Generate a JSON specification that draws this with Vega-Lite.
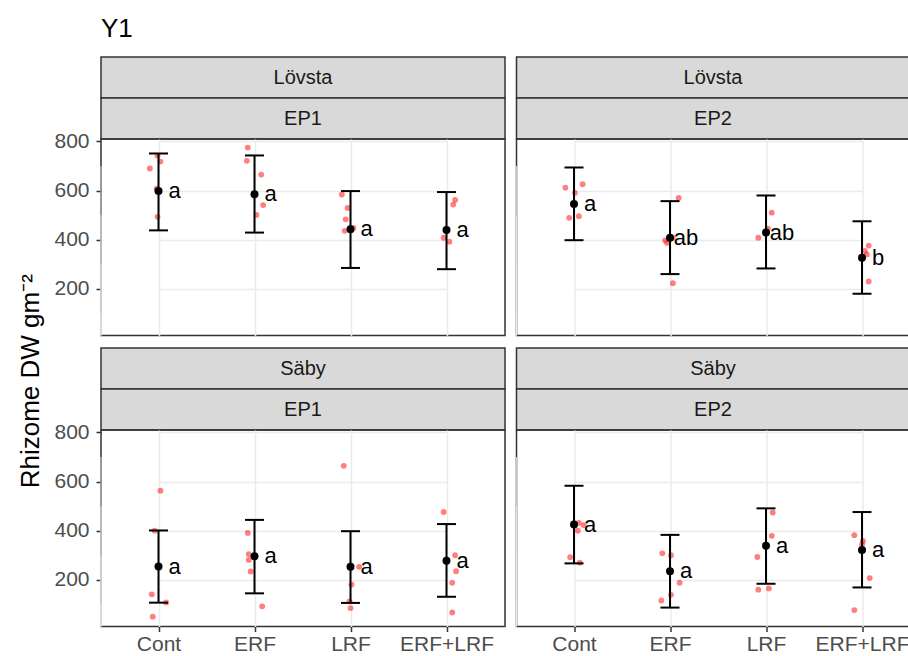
{
  "$schema": "https://vega.github.io/schema/vega-lite/v6.json",
  "padding": {"left": 18, "top": 16, "right": 0, "bottom": 0},
  "background": "white",
  "config": {
    "font": "Liberation Sans",
    "view": {"stroke": "#333333", "strokeWidth": 1.5},
    "axis": {"domain": false, "gridColor": "#ebebeb", "labelColor": "#4d4d4d", "labelFontSize": 21, "labelFont": "Liberation Sans", "tickColor": "#333333", "tickSize": 5, "tickWidth": 1.5, "titleColor": "black", "titleFontWeight": "normal", "titleFont": "Liberation Sans"}
  },
  "datasets": {
    "strips": [
      {"site": "Lövsta", "ep": "EP1"}, {"site": "Lövsta", "ep": "EP2"},
      {"site": "Säby", "ep": "EP1"}, {"site": "Säby", "ep": "EP2"}
    ],
    "minor": [{"g": 100}, {"g": 300}, {"g": 500}, {"g": 700}],
    "obs": [
      {"site": "Lövsta", "ep": "EP1", "trt": "Cont", "v": 742, "j": -0.01},
      {"site": "Lövsta", "ep": "EP1", "trt": "Cont", "v": 718, "j": 0.02},
      {"site": "Lövsta", "ep": "EP1", "trt": "Cont", "v": 690, "j": -0.09},
      {"site": "Lövsta", "ep": "EP1", "trt": "Cont", "v": 608, "j": -0.02},
      {"site": "Lövsta", "ep": "EP1", "trt": "Cont", "v": 493, "j": -0.01},
      {"site": "Lövsta", "ep": "EP1", "trt": "ERF", "v": 775, "j": -0.07},
      {"site": "Lövsta", "ep": "EP1", "trt": "ERF", "v": 721, "j": -0.08},
      {"site": "Lövsta", "ep": "EP1", "trt": "ERF", "v": 665, "j": 0.07},
      {"site": "Lövsta", "ep": "EP1", "trt": "ERF", "v": 541, "j": 0.09},
      {"site": "Lövsta", "ep": "EP1", "trt": "ERF", "v": 501, "j": 0.02},
      {"site": "Lövsta", "ep": "EP1", "trt": "LRF", "v": 584, "j": -0.09},
      {"site": "Lövsta", "ep": "EP1", "trt": "LRF", "v": 529, "j": -0.03},
      {"site": "Lövsta", "ep": "EP1", "trt": "LRF", "v": 483, "j": -0.05},
      {"site": "Lövsta", "ep": "EP1", "trt": "LRF", "v": 436, "j": -0.06},
      {"site": "Lövsta", "ep": "EP1", "trt": "LRF", "v": 448, "j": 0.03},
      {"site": "Lövsta", "ep": "EP1", "trt": "ERF+LRF", "v": 562, "j": 0.09},
      {"site": "Lövsta", "ep": "EP1", "trt": "ERF+LRF", "v": 543, "j": 0.07},
      {"site": "Lövsta", "ep": "EP1", "trt": "ERF+LRF", "v": 408, "j": -0.03},
      {"site": "Lövsta", "ep": "EP1", "trt": "ERF+LRF", "v": 392, "j": 0.03},
      {"site": "Lövsta", "ep": "EP2", "trt": "Cont", "v": 612, "j": -0.09},
      {"site": "Lövsta", "ep": "EP2", "trt": "Cont", "v": 626, "j": 0.09},
      {"site": "Lövsta", "ep": "EP2", "trt": "Cont", "v": 591, "j": 0.01},
      {"site": "Lövsta", "ep": "EP2", "trt": "Cont", "v": 489, "j": -0.05},
      {"site": "Lövsta", "ep": "EP2", "trt": "Cont", "v": 496, "j": 0.05},
      {"site": "Lövsta", "ep": "EP2", "trt": "ERF", "v": 570, "j": 0.09},
      {"site": "Lövsta", "ep": "EP2", "trt": "ERF", "v": 397, "j": -0.05},
      {"site": "Lövsta", "ep": "EP2", "trt": "ERF", "v": 387, "j": -0.03},
      {"site": "Lövsta", "ep": "EP2", "trt": "ERF", "v": 408, "j": 0.03},
      {"site": "Lövsta", "ep": "EP2", "trt": "ERF", "v": 223, "j": 0.03},
      {"site": "Lövsta", "ep": "EP2", "trt": "LRF", "v": 510, "j": 0.06},
      {"site": "Lövsta", "ep": "EP2", "trt": "LRF", "v": 445, "j": 0.02},
      {"site": "Lövsta", "ep": "EP2", "trt": "LRF", "v": 435, "j": 0.0},
      {"site": "Lövsta", "ep": "EP2", "trt": "LRF", "v": 408, "j": -0.08},
      {"site": "Lövsta", "ep": "EP2", "trt": "ERF+LRF", "v": 376, "j": 0.07},
      {"site": "Lövsta", "ep": "EP2", "trt": "ERF+LRF", "v": 354, "j": 0.03},
      {"site": "Lövsta", "ep": "EP2", "trt": "ERF+LRF", "v": 340, "j": 0.05},
      {"site": "Lövsta", "ep": "EP2", "trt": "ERF+LRF", "v": 230, "j": 0.07},
      {"site": "Säby", "ep": "EP1", "trt": "Cont", "v": 563, "j": 0.02},
      {"site": "Säby", "ep": "EP1", "trt": "Cont", "v": 400, "j": -0.04},
      {"site": "Säby", "ep": "EP1", "trt": "Cont", "v": 141, "j": -0.07},
      {"site": "Säby", "ep": "EP1", "trt": "Cont", "v": 108, "j": 0.08},
      {"site": "Säby", "ep": "EP1", "trt": "Cont", "v": 50, "j": -0.06},
      {"site": "Säby", "ep": "EP1", "trt": "ERF", "v": 391, "j": -0.07},
      {"site": "Säby", "ep": "EP1", "trt": "ERF", "v": 305, "j": -0.06},
      {"site": "Säby", "ep": "EP1", "trt": "ERF", "v": 281, "j": -0.06},
      {"site": "Säby", "ep": "EP1", "trt": "ERF", "v": 234, "j": -0.04},
      {"site": "Säby", "ep": "EP1", "trt": "ERF", "v": 92, "j": 0.08},
      {"site": "Säby", "ep": "EP1", "trt": "LRF", "v": 664, "j": -0.07},
      {"site": "Säby", "ep": "EP1", "trt": "LRF", "v": 253, "j": 0.09},
      {"site": "Säby", "ep": "EP1", "trt": "LRF", "v": 181, "j": 0.01},
      {"site": "Säby", "ep": "EP1", "trt": "LRF", "v": 112, "j": -0.01},
      {"site": "Säby", "ep": "EP1", "trt": "LRF", "v": 85, "j": 0.0},
      {"site": "Säby", "ep": "EP1", "trt": "ERF+LRF", "v": 476, "j": -0.03},
      {"site": "Säby", "ep": "EP1", "trt": "ERF+LRF", "v": 300, "j": 0.09},
      {"site": "Säby", "ep": "EP1", "trt": "ERF+LRF", "v": 235, "j": 0.1},
      {"site": "Säby", "ep": "EP1", "trt": "ERF+LRF", "v": 188, "j": 0.06},
      {"site": "Säby", "ep": "EP1", "trt": "ERF+LRF", "v": 67, "j": 0.06},
      {"site": "Säby", "ep": "EP2", "trt": "Cont", "v": 432, "j": 0.05},
      {"site": "Säby", "ep": "EP2", "trt": "Cont", "v": 423, "j": 0.1},
      {"site": "Säby", "ep": "EP2", "trt": "Cont", "v": 400, "j": 0.04},
      {"site": "Säby", "ep": "EP2", "trt": "Cont", "v": 292, "j": -0.04},
      {"site": "Säby", "ep": "EP2", "trt": "Cont", "v": 270, "j": 0.06},
      {"site": "Säby", "ep": "EP2", "trt": "ERF", "v": 308, "j": -0.08},
      {"site": "Säby", "ep": "EP2", "trt": "ERF", "v": 300, "j": 0.01},
      {"site": "Säby", "ep": "EP2", "trt": "ERF", "v": 188, "j": 0.1},
      {"site": "Säby", "ep": "EP2", "trt": "ERF", "v": 139, "j": 0.01},
      {"site": "Säby", "ep": "EP2", "trt": "ERF", "v": 116, "j": -0.09},
      {"site": "Säby", "ep": "EP2", "trt": "LRF", "v": 474, "j": 0.07},
      {"site": "Säby", "ep": "EP2", "trt": "LRF", "v": 379, "j": 0.06},
      {"site": "Säby", "ep": "EP2", "trt": "LRF", "v": 293, "j": -0.09},
      {"site": "Säby", "ep": "EP2", "trt": "LRF", "v": 160, "j": -0.08},
      {"site": "Säby", "ep": "EP2", "trt": "LRF", "v": 165, "j": 0.03},
      {"site": "Säby", "ep": "EP2", "trt": "ERF+LRF", "v": 382, "j": -0.08},
      {"site": "Säby", "ep": "EP2", "trt": "ERF+LRF", "v": 358, "j": 0.01},
      {"site": "Säby", "ep": "EP2", "trt": "ERF+LRF", "v": 345, "j": 0.0},
      {"site": "Säby", "ep": "EP2", "trt": "ERF+LRF", "v": 207, "j": 0.08},
      {"site": "Säby", "ep": "EP2", "trt": "ERF+LRF", "v": 77, "j": -0.08}
    ],
    "summ": [
      {"site": "Lövsta", "ep": "EP1", "trt": "Cont", "mean": 598, "lo": 438, "hi": 751, "lab": "a"},
      {"site": "Lövsta", "ep": "EP1", "trt": "ERF", "mean": 585, "lo": 429, "hi": 743, "lab": "a"},
      {"site": "Lövsta", "ep": "EP1", "trt": "LRF", "mean": 443, "lo": 285, "hi": 598, "lab": "a"},
      {"site": "Lövsta", "ep": "EP1", "trt": "ERF+LRF", "mean": 440, "lo": 280, "hi": 594, "lab": "a"},
      {"site": "Lövsta", "ep": "EP2", "trt": "Cont", "mean": 545, "lo": 398, "hi": 694, "lab": "a"},
      {"site": "Lövsta", "ep": "EP2", "trt": "ERF", "mean": 408, "lo": 260, "hi": 557, "lab": "ab"},
      {"site": "Lövsta", "ep": "EP2", "trt": "LRF", "mean": 429, "lo": 283, "hi": 580, "lab": "ab"},
      {"site": "Lövsta", "ep": "EP2", "trt": "ERF+LRF", "mean": 327, "lo": 180, "hi": 475, "lab": "b"},
      {"site": "Säby", "ep": "EP1", "trt": "Cont", "mean": 254, "lo": 107, "hi": 401, "lab": "a"},
      {"site": "Säby", "ep": "EP1", "trt": "ERF", "mean": 296, "lo": 145, "hi": 444, "lab": "a"},
      {"site": "Säby", "ep": "EP1", "trt": "LRF", "mean": 253, "lo": 106, "hi": 398, "lab": "a"},
      {"site": "Säby", "ep": "EP1", "trt": "ERF+LRF", "mean": 278, "lo": 131, "hi": 427, "lab": "a"},
      {"site": "Säby", "ep": "EP2", "trt": "Cont", "mean": 425, "lo": 267, "hi": 583, "lab": "a"},
      {"site": "Säby", "ep": "EP2", "trt": "ERF", "mean": 235, "lo": 87, "hi": 383, "lab": "a"},
      {"site": "Säby", "ep": "EP2", "trt": "LRF", "mean": 339, "lo": 184, "hi": 491, "lab": "a"},
      {"site": "Säby", "ep": "EP2", "trt": "ERF+LRF", "mean": 321, "lo": 169, "hi": 476, "lab": "a"}
    ]
  },
  "spacing": 9,
  "hconcat": [
    {
      "width": 24, "height": 568.5,
      "view": {"stroke": null},
      "data": {"values": [{"t": "Rhizome DW gm⁻²"}]},
      "mark": {"type": "text", "angle": 270, "fontSize": 26, "color": "black", "baseline": "middle", "align": "center", "dx": -40},
      "encoding": {"text": {"field": "t"}}
    },
    {
      "title": {"text": "Y1", "anchor": "start", "frame": "group", "fontSize": 26, "fontWeight": "normal", "color": "black", "font": "Liberation Sans", "offset": 14},
      "spacing": 8.5,
      "hconcat": [
        {
          "bounds": "flush",
          "spacing": 0,
          "vconcat": [
            {"width": 404, "height": 41, "view": {"fill": "#d9d9d9", "stroke": "#333333", "strokeWidth": 1.5}, "data": {"name": "strips"}, "transform": [{"filter": "datum.site == 'Lövsta' && datum.ep == 'EP1'"}], "mark": {"type": "text", "fontSize": 20, "color": "#1a1a1a", "baseline": "middle"}, "encoding": {"text": {"field": "site"}}},
            {"width": 404, "height": 41, "view": {"fill": "#d9d9d9", "stroke": "#333333", "strokeWidth": 1.5}, "data": {"name": "strips"}, "transform": [{"filter": "datum.site == 'Lövsta' && datum.ep == 'EP1'"}], "mark": {"type": "text", "fontSize": 20, "color": "#1a1a1a", "baseline": "middle"}, "encoding": {"text": {"field": "ep"}}},
            {
              "width": 404, "height": 196.5,
              "encoding": {"x": {"field": "trt", "type": "nominal", "scale": {"type": "point", "domain": ["Cont", "ERF", "LRF", "ERF+LRF"], "range": [57.5, 345.5], "padding": 0}, "axis": {"title": null, "labels": false, "ticks": false, "grid": true, "gridWidth": 1.5}}},
              "layer": [
                {"data": {"name": "minor"}, "mark": {"type": "rule", "color": "#ebebeb", "strokeWidth": 0.8},
                 "encoding": {"y": {"field": "g", "type": "quantitative", "title": null}}},
                {"data": {"name": "obs"}, "transform": [{"filter": "datum.site == 'Lövsta' && datum.ep == 'EP1'"}], "mark": {"type": "circle", "size": 34, "color": "red", "opacity": 0.5},
                 "encoding": {"y": {"field": "v", "type": "quantitative", "scale": {"domain": [10, 810], "nice": false, "zero": false}, "axis": {"title": null, "grid": true, "values": [200, 400, 600, 800], "labelPadding": 7, "gridWidth": 1.5}},
                              "xOffset": {"field": "j", "type": "quantitative", "scale": {"domain": [-0.5, 0.5], "range": [-48, 48]}}}},
                {"data": {"name": "summ"}, "transform": [{"filter": "datum.site == 'Lövsta' && datum.ep == 'EP1'"}], "mark": {"type": "rule", "color": "black", "strokeWidth": 2},
                 "encoding": {"y": {"field": "lo", "type": "quantitative", "title": null}, "y2": {"field": "hi"}}},
                {"data": {"name": "summ"}, "transform": [{"filter": "datum.site == 'Lövsta' && datum.ep == 'EP1'"}], "mark": {"type": "tick", "orient": "horizontal", "size": 19, "thickness": 2, "color": "black", "opacity": 1},
                 "encoding": {"y": {"field": "lo", "type": "quantitative", "title": null}}},
                {"data": {"name": "summ"}, "transform": [{"filter": "datum.site == 'Lövsta' && datum.ep == 'EP1'"}], "mark": {"type": "tick", "orient": "horizontal", "size": 19, "thickness": 2, "color": "black", "opacity": 1},
                 "encoding": {"y": {"field": "hi", "type": "quantitative", "title": null}}},
                {"data": {"name": "summ"}, "transform": [{"filter": "datum.site == 'Lövsta' && datum.ep == 'EP1'"}], "mark": {"type": "circle", "size": 64, "color": "black", "opacity": 1},
                 "encoding": {"y": {"field": "mean", "type": "quantitative", "title": null}}},
                {"data": {"name": "summ"}, "transform": [{"filter": "datum.site == 'Lövsta' && datum.ep == 'EP1'"}], "mark": {"type": "text", "fontSize": 22, "color": "black", "dx": 16, "align": "center", "baseline": "middle"},
                 "encoding": {"y": {"field": "mean", "type": "quantitative", "title": null}, "text": {"field": "lab"}}}
              ]
            },
            {"width": 404, "height": 11.5, "view": {"stroke": null}, "data": {"values": []}, "mark": "text", "encoding": {}},
            {"width": 404, "height": 41, "view": {"fill": "#d9d9d9", "stroke": "#333333", "strokeWidth": 1.5}, "data": {"name": "strips"}, "transform": [{"filter": "datum.site == 'Säby' && datum.ep == 'EP1'"}], "mark": {"type": "text", "fontSize": 20, "color": "#1a1a1a", "baseline": "middle"}, "encoding": {"text": {"field": "site"}}},
            {"width": 404, "height": 41, "view": {"fill": "#d9d9d9", "stroke": "#333333", "strokeWidth": 1.5}, "data": {"name": "strips"}, "transform": [{"filter": "datum.site == 'Säby' && datum.ep == 'EP1'"}], "mark": {"type": "text", "fontSize": 20, "color": "#1a1a1a", "baseline": "middle"}, "encoding": {"text": {"field": "ep"}}},
            {
              "width": 404, "height": 196.5,
              "encoding": {"x": {"field": "trt", "type": "nominal", "scale": {"type": "point", "domain": ["Cont", "ERF", "LRF", "ERF+LRF"], "range": [57.5, 345.5], "padding": 0}, "axis": {"title": null, "labelPadding": 2, "labelAngle": 0, "grid": true, "gridWidth": 1.5}}},
              "layer": [
                {"data": {"name": "minor"}, "mark": {"type": "rule", "color": "#ebebeb", "strokeWidth": 0.8},
                 "encoding": {"y": {"field": "g", "type": "quantitative", "title": null}}},
                {"data": {"name": "obs"}, "transform": [{"filter": "datum.site == 'Säby' && datum.ep == 'EP1'"}], "mark": {"type": "circle", "size": 34, "color": "red", "opacity": 0.5},
                 "encoding": {"y": {"field": "v", "type": "quantitative", "scale": {"domain": [10, 810], "nice": false, "zero": false}, "axis": {"title": null, "grid": true, "values": [200, 400, 600, 800], "labelPadding": 7, "gridWidth": 1.5}},
                              "xOffset": {"field": "j", "type": "quantitative", "scale": {"domain": [-0.5, 0.5], "range": [-48, 48]}}}},
                {"data": {"name": "summ"}, "transform": [{"filter": "datum.site == 'Säby' && datum.ep == 'EP1'"}], "mark": {"type": "rule", "color": "black", "strokeWidth": 2},
                 "encoding": {"y": {"field": "lo", "type": "quantitative", "title": null}, "y2": {"field": "hi"}}},
                {"data": {"name": "summ"}, "transform": [{"filter": "datum.site == 'Säby' && datum.ep == 'EP1'"}], "mark": {"type": "tick", "orient": "horizontal", "size": 19, "thickness": 2, "color": "black", "opacity": 1},
                 "encoding": {"y": {"field": "lo", "type": "quantitative", "title": null}}},
                {"data": {"name": "summ"}, "transform": [{"filter": "datum.site == 'Säby' && datum.ep == 'EP1'"}], "mark": {"type": "tick", "orient": "horizontal", "size": 19, "thickness": 2, "color": "black", "opacity": 1},
                 "encoding": {"y": {"field": "hi", "type": "quantitative", "title": null}}},
                {"data": {"name": "summ"}, "transform": [{"filter": "datum.site == 'Säby' && datum.ep == 'EP1'"}], "mark": {"type": "circle", "size": 64, "color": "black", "opacity": 1},
                 "encoding": {"y": {"field": "mean", "type": "quantitative", "title": null}}},
                {"data": {"name": "summ"}, "transform": [{"filter": "datum.site == 'Säby' && datum.ep == 'EP1'"}], "mark": {"type": "text", "fontSize": 22, "color": "black", "dx": 16, "align": "center", "baseline": "middle"},
                 "encoding": {"y": {"field": "mean", "type": "quantitative", "title": null}, "text": {"field": "lab"}}}
              ]
            }
          ]
        },
        {
          "bounds": "flush",
          "spacing": 0,
          "vconcat": [
            {"width": 393, "height": 41, "view": {"fill": "#d9d9d9", "stroke": "#333333", "strokeWidth": 1.5}, "data": {"name": "strips"}, "transform": [{"filter": "datum.site == 'Lövsta' && datum.ep == 'EP2'"}], "mark": {"type": "text", "fontSize": 20, "color": "#1a1a1a", "baseline": "middle"}, "encoding": {"text": {"field": "site"}}},
            {"width": 393, "height": 41, "view": {"fill": "#d9d9d9", "stroke": "#333333", "strokeWidth": 1.5}, "data": {"name": "strips"}, "transform": [{"filter": "datum.site == 'Lövsta' && datum.ep == 'EP2'"}], "mark": {"type": "text", "fontSize": 20, "color": "#1a1a1a", "baseline": "middle"}, "encoding": {"text": {"field": "ep"}}},
            {
              "width": 393, "height": 196.5,
              "encoding": {"x": {"field": "trt", "type": "nominal", "scale": {"type": "point", "domain": ["Cont", "ERF", "LRF", "ERF+LRF"], "range": [57.5, 345.5], "padding": 0}, "axis": {"title": null, "labels": false, "ticks": false, "grid": true, "gridWidth": 1.5}}},
              "layer": [
                {"data": {"name": "minor"}, "mark": {"type": "rule", "color": "#ebebeb", "strokeWidth": 0.8},
                 "encoding": {"y": {"field": "g", "type": "quantitative", "title": null}}},
                {"data": {"name": "obs"}, "transform": [{"filter": "datum.site == 'Lövsta' && datum.ep == 'EP2'"}], "mark": {"type": "circle", "size": 34, "color": "red", "opacity": 0.5},
                 "encoding": {"y": {"field": "v", "type": "quantitative", "scale": {"domain": [10, 810], "nice": false, "zero": false}, "axis": {"title": null, "grid": true, "values": [200, 400, 600, 800], "labels": false, "ticks": false, "gridWidth": 1.5}},
                              "xOffset": {"field": "j", "type": "quantitative", "scale": {"domain": [-0.5, 0.5], "range": [-48, 48]}}}},
                {"data": {"name": "summ"}, "transform": [{"filter": "datum.site == 'Lövsta' && datum.ep == 'EP2'"}], "mark": {"type": "rule", "color": "black", "strokeWidth": 2},
                 "encoding": {"y": {"field": "lo", "type": "quantitative", "title": null}, "y2": {"field": "hi"}}},
                {"data": {"name": "summ"}, "transform": [{"filter": "datum.site == 'Lövsta' && datum.ep == 'EP2'"}], "mark": {"type": "tick", "orient": "horizontal", "size": 19, "thickness": 2, "color": "black", "opacity": 1},
                 "encoding": {"y": {"field": "lo", "type": "quantitative", "title": null}}},
                {"data": {"name": "summ"}, "transform": [{"filter": "datum.site == 'Lövsta' && datum.ep == 'EP2'"}], "mark": {"type": "tick", "orient": "horizontal", "size": 19, "thickness": 2, "color": "black", "opacity": 1},
                 "encoding": {"y": {"field": "hi", "type": "quantitative", "title": null}}},
                {"data": {"name": "summ"}, "transform": [{"filter": "datum.site == 'Lövsta' && datum.ep == 'EP2'"}], "mark": {"type": "circle", "size": 64, "color": "black", "opacity": 1},
                 "encoding": {"y": {"field": "mean", "type": "quantitative", "title": null}}},
                {"data": {"name": "summ"}, "transform": [{"filter": "datum.site == 'Lövsta' && datum.ep == 'EP2'"}], "mark": {"type": "text", "fontSize": 22, "color": "black", "dx": 16, "align": "center", "baseline": "middle"},
                 "encoding": {"y": {"field": "mean", "type": "quantitative", "title": null}, "text": {"field": "lab"}}}
              ]
            },
            {"width": 393, "height": 11.5, "view": {"stroke": null}, "data": {"values": []}, "mark": "text", "encoding": {}},
            {"width": 393, "height": 41, "view": {"fill": "#d9d9d9", "stroke": "#333333", "strokeWidth": 1.5}, "data": {"name": "strips"}, "transform": [{"filter": "datum.site == 'Säby' && datum.ep == 'EP2'"}], "mark": {"type": "text", "fontSize": 20, "color": "#1a1a1a", "baseline": "middle"}, "encoding": {"text": {"field": "site"}}},
            {"width": 393, "height": 41, "view": {"fill": "#d9d9d9", "stroke": "#333333", "strokeWidth": 1.5}, "data": {"name": "strips"}, "transform": [{"filter": "datum.site == 'Säby' && datum.ep == 'EP2'"}], "mark": {"type": "text", "fontSize": 20, "color": "#1a1a1a", "baseline": "middle"}, "encoding": {"text": {"field": "ep"}}},
            {
              "width": 393, "height": 196.5,
              "encoding": {"x": {"field": "trt", "type": "nominal", "scale": {"type": "point", "domain": ["Cont", "ERF", "LRF", "ERF+LRF"], "range": [57.5, 345.5], "padding": 0}, "axis": {"title": null, "labelPadding": 2, "labelAngle": 0, "grid": true, "gridWidth": 1.5}}},
              "layer": [
                {"data": {"name": "minor"}, "mark": {"type": "rule", "color": "#ebebeb", "strokeWidth": 0.8},
                 "encoding": {"y": {"field": "g", "type": "quantitative", "title": null}}},
                {"data": {"name": "obs"}, "transform": [{"filter": "datum.site == 'Säby' && datum.ep == 'EP2'"}], "mark": {"type": "circle", "size": 34, "color": "red", "opacity": 0.5},
                 "encoding": {"y": {"field": "v", "type": "quantitative", "scale": {"domain": [10, 810], "nice": false, "zero": false}, "axis": {"title": null, "grid": true, "values": [200, 400, 600, 800], "labels": false, "ticks": false, "gridWidth": 1.5}},
                              "xOffset": {"field": "j", "type": "quantitative", "scale": {"domain": [-0.5, 0.5], "range": [-48, 48]}}}},
                {"data": {"name": "summ"}, "transform": [{"filter": "datum.site == 'Säby' && datum.ep == 'EP2'"}], "mark": {"type": "rule", "color": "black", "strokeWidth": 2},
                 "encoding": {"y": {"field": "lo", "type": "quantitative", "title": null}, "y2": {"field": "hi"}}},
                {"data": {"name": "summ"}, "transform": [{"filter": "datum.site == 'Säby' && datum.ep == 'EP2'"}], "mark": {"type": "tick", "orient": "horizontal", "size": 19, "thickness": 2, "color": "black", "opacity": 1},
                 "encoding": {"y": {"field": "lo", "type": "quantitative", "title": null}}},
                {"data": {"name": "summ"}, "transform": [{"filter": "datum.site == 'Säby' && datum.ep == 'EP2'"}], "mark": {"type": "tick", "orient": "horizontal", "size": 19, "thickness": 2, "color": "black", "opacity": 1},
                 "encoding": {"y": {"field": "hi", "type": "quantitative", "title": null}}},
                {"data": {"name": "summ"}, "transform": [{"filter": "datum.site == 'Säby' && datum.ep == 'EP2'"}], "mark": {"type": "circle", "size": 64, "color": "black", "opacity": 1},
                 "encoding": {"y": {"field": "mean", "type": "quantitative", "title": null}}},
                {"data": {"name": "summ"}, "transform": [{"filter": "datum.site == 'Säby' && datum.ep == 'EP2'"}], "mark": {"type": "text", "fontSize": 22, "color": "black", "dx": 16, "align": "center", "baseline": "middle"},
                 "encoding": {"y": {"field": "mean", "type": "quantitative", "title": null}, "text": {"field": "lab"}}}
              ]
            }
          ]
        }
      ]
    }
  ]
}
